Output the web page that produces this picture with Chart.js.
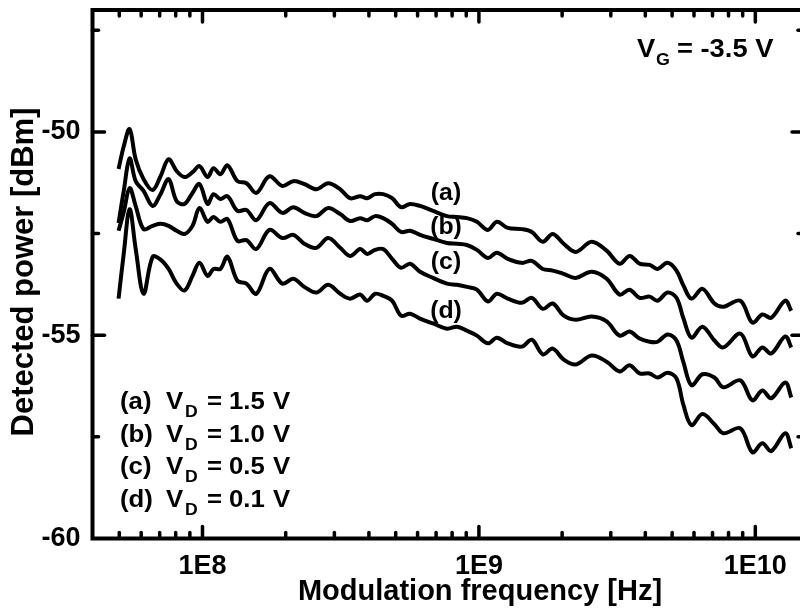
<!DOCTYPE html>
<html>
<head>
<meta charset="utf-8">
<script src="https://cdn.jsdelivr.net/npm/chart.js@4/dist/chart.umd.min.js"></script>
<style>
  html, body { margin: 0; padding: 0; background: #fff; overflow: hidden; }
  canvas { display: block; }
</style>
</head>
<body>
<canvas id="plot" width="810" height="614"></canvas>
<script>
// modulation frequency [Hz], shared by all four traces
const freqHz = [4.97e7, 5.19e7, 5.45e7, 5.73e7, 6.12e7, 6.60e7, 7.05e7, 7.54e7, 8.06e7, 8.61e7,
  9.20e7, 9.75e7, 1.043e8, 1.096e8, 1.161e8, 1.231e8, 1.338e8, 1.442e8, 1.566e8, 1.746e8,
  1.945e8, 2.131e8, 2.335e8, 2.580e8, 2.850e8, 3.150e8, 3.421e8, 3.719e8, 3.942e8, 4.212e8,
  4.503e8, 4.852e8, 5.228e8, 5.634e8, 6.124e8, 6.823e8, 7.663e8, 8.328e8, 9.051e8, 9.835e8,
  1.078e9, 1.161e9, 1.272e9, 1.429e9, 1.554e9, 1.702e9, 1.850e9, 2.027e9, 2.240e9, 2.558e9,
  2.898e9, 3.228e9, 3.509e9, 3.813e9, 4.143e9, 4.429e9, 4.812e9, 5.185e9, 5.496e9, 5.875e9,
  6.438e9, 7.112e9, 7.663e9, 8.829e9, 9.754e9, 1.060e10, 1.142e10, 1.283e10, 1.349e10];

// detected power [dBm]
const powerA = [-50.91, -50.35, -49.93, -50.67, -51.16, -51.43, -51.09, -50.67, -50.96, -51.11,
  -50.99, -50.84, -51.11, -50.89, -51.04, -50.82, -51.21, -51.26, -51.50, -51.09,
  -51.33, -51.21, -51.28, -51.41, -51.26, -51.41, -51.63, -51.58, -51.63, -51.53,
  -51.53, -51.63, -51.85, -51.77, -51.82, -51.94, -52.07, -52.09, -52.12, -52.21,
  -52.41, -52.21, -52.36, -52.39, -52.46, -52.70, -52.51, -52.75, -52.95, -52.70,
  -52.92, -53.24, -53.05, -53.24, -53.27, -53.37, -53.22, -53.41, -53.78, -54.10,
  -53.86, -54.22, -54.30, -54.15, -54.69, -54.49, -54.57, -54.15, -54.40];
const powerB = [-52.24, -51.45, -50.65, -51.21, -51.45, -51.82, -51.53, -51.16, -51.70, -51.77,
  -51.50, -51.28, -51.77, -51.53, -51.65, -51.58, -51.94, -51.92, -52.17, -51.75,
  -51.99, -51.85, -51.99, -52.07, -51.87, -52.02, -52.19, -52.12, -52.17, -52.07,
  -52.12, -52.26, -52.46, -52.43, -52.53, -52.63, -52.73, -52.75, -52.78, -52.90,
  -53.10, -52.97, -53.12, -53.22, -53.17, -53.37, -53.41, -53.49, -53.59, -53.44,
  -53.61, -54.00, -53.88, -54.08, -54.05, -54.15, -53.95, -54.08, -54.59, -55.06,
  -54.79, -55.13, -55.30, -54.96, -55.52, -55.30, -55.45, -55.03, -55.30];
const powerC = [-52.43, -51.97, -51.38, -51.82, -52.39, -52.31, -52.26, -52.31, -52.43, -52.51,
  -52.31, -51.87, -52.21, -52.09, -52.21, -52.14, -52.68, -52.66, -52.88, -52.41,
  -52.61, -52.53, -52.75, -52.85, -52.61, -52.85, -53.05, -52.88, -53.00, -52.90,
  -52.88, -53.12, -53.34, -53.24, -53.44, -53.59, -53.73, -53.76, -53.81, -53.88,
  -54.17, -53.98, -54.10, -54.20, -54.08, -54.35, -54.22, -54.52, -54.62, -54.54,
  -54.66, -55.01, -54.91, -55.08, -55.16, -55.16, -54.98, -55.13, -55.67, -56.23,
  -55.96, -56.04, -56.28, -56.11, -56.60, -56.36, -56.55, -56.16, -56.53];
const powerD = [-54.10, -52.99, -51.90, -52.87, -53.98, -53.07, -53.14, -53.37, -53.73, -53.90,
  -53.54, -53.22, -53.54, -53.37, -53.37, -53.07, -53.66, -53.73, -53.98, -53.37,
  -53.73, -53.61, -53.81, -53.95, -53.76, -53.98, -54.10, -54.00, -54.15, -53.98,
  -54.03, -54.15, -54.52, -54.47, -54.59, -54.71, -54.84, -54.79, -54.89, -55.01,
  -55.20, -55.06, -55.20, -55.28, -55.11, -55.47, -55.33, -55.60, -55.72, -55.50,
  -55.65, -55.89, -55.74, -55.94, -55.94, -56.04, -55.92, -56.06, -56.72, -57.21,
  -56.94, -57.19, -57.41, -57.29, -57.88, -57.66, -57.85, -57.41, -57.78];

const xTicks = [1e8, 1e9, 1e10];
const xTickLabels = ['1E8', '1E9', '1E10'];
const yTicks = [-60, -55, -50];
const seriesNames = ['(a)', '(b)', '(c)', '(d)'];
const drainVolts = ['1.5', '1.0', '0.5', '0.1'];

const FONT = '"Liberation Sans", Arial, sans-serif';

function toPoints(ys) {
  return freqHz.map((f, i) => ({ x: f, y: ys[i] }));
}

function line(ctx, x1, y1, x2, y2) {
  ctx.beginPath();
  ctx.moveTo(x1, y1);
  ctx.lineTo(x2, y2);
  ctx.stroke();
}

// text slightly widened, like the original figure lettering
function wide(ctx, s, x, y, sx) {
  ctx.save();
  ctx.translate(x, y);
  ctx.scale(sx, 1);
  ctx.fillText(s, 0, 0);
  ctx.restore();
}

// frame, inward ticks and the extra text
const decorations = {
  id: 'decorations',
  afterDraw(chart) {
    const { ctx, chartArea: a, scales: { x, y } } = chart;
    ctx.save();
    ctx.strokeStyle = '#000';
    ctx.fillStyle = '#000';
    ctx.lineCap = 'round';

    ctx.lineWidth = 4;
    ctx.strokeRect(a.left, a.top, a.right - a.left, a.bottom - a.top);

    ctx.lineWidth = 3.5;
    for (let d = 7; d <= 10; d++) {
      for (let m = 1; m <= 9; m++) {
        const v = m * Math.pow(10, d);
        if (v <= x.min || v >= x.max) continue;
        const px = x.getPixelForValue(v);
        const len = m === 1 ? 12 : 6;
        line(ctx, px, a.bottom, px, a.bottom - len);
        line(ctx, px, a.top, px, a.top + len);
      }
    }
    for (let v = -57.5; v <= -47.5; v += 2.5) {
      const py = y.getPixelForValue(v);
      const len = v % 5 === 0 ? 12 : 6;
      line(ctx, a.left, py, a.left + len, py);
      line(ctx, a.right, py, a.right - len, py);
    }

    // axis titles
    ctx.font = 'bold 29px ' + FONT;
    ctx.textAlign = 'center';
    ctx.textBaseline = 'alphabetic';
    ctx.fillText('Modulation frequency [Hz]', 480, 600);
    ctx.save();
    ctx.translate(33, 272);
    ctx.rotate(-Math.PI / 2);
    ctx.font = 'bold 31px ' + FONT;
    ctx.fillText('Detected power [dBm]', 0, 0);
    ctx.restore();

    // curve labels
    ctx.font = 'bold 23px ' + FONT;
    const labelBase = [200, 234, 269, 318];
    seriesNames.forEach((n, i) => wide(ctx, n, 446, labelBase[i], 1.08));

    // gate voltage
    ctx.textAlign = 'left';
    ctx.font = 'bold 26px ' + FONT;
    wide(ctx, 'V', 637, 57, 1.05);
    ctx.font = 'bold 17px ' + FONT;
    wide(ctx, 'G', 656, 65, 1.05);
    ctx.font = 'bold 26px ' + FONT;
    wide(ctx, '= -3.5 V', 677, 57, 1.05);

    // drain voltage list
    seriesNames.forEach((n, i) => {
      const base = 409 + i * 32.5;
      ctx.font = 'bold 23px ' + FONT;
      wide(ctx, n, 120, base, 1.12);
      wide(ctx, 'V', 166, base, 1.12);
      wide(ctx, '=', 207, base, 1.12);
      wide(ctx, drainVolts[i], 229, base, 1.12);
      wide(ctx, 'V', 273, base, 1.12);
      ctx.font = 'bold 16px ' + FONT;
      wide(ctx, 'D', 185, base + 8, 1.1);
    });
    ctx.restore();
  }
};

const traceStyle = { borderColor: '#000', borderWidth: 4, pointRadius: 0, tension: 0.35, fill: false };

new Chart(document.getElementById('plot').getContext('2d'), {
  type: 'line',
  data: {
    datasets: [
      { label: '(a)', data: toPoints(powerA), ...traceStyle },
      { label: '(b)', data: toPoints(powerB), ...traceStyle },
      { label: '(c)', data: toPoints(powerC), ...traceStyle },
      { label: '(d)', data: toPoints(powerD), ...traceStyle }
    ]
  },
  options: {
    responsive: false,
    animation: false,
    layout: { padding: { top: 10, right: 6, left: 0, bottom: 0 } },
    plugins: { legend: { display: false }, tooltip: { enabled: false } },
    scales: {
      x: {
        type: 'logarithmic',
        min: 4e7,
        max: 1.5e10,
        grid: { display: false, drawTicks: false },
        border: { display: false },
        afterBuildTicks: s => { s.ticks = xTicks.map(v => ({ value: v })); },
        afterFit: s => { s.height = 75.5; s.paddingLeft = 0; s.paddingRight = 0; },
        ticks: {
          autoSkip: false,
          maxRotation: 0,
          padding: 12,
          color: '#000',
          font: { family: FONT, size: 27, weight: 'bold' },
          callback: (v, i) => xTickLabels[i]
        }
      },
      y: {
        min: -60,
        max: -47,
        grid: { display: false, drawTicks: false },
        border: { display: false },
        afterBuildTicks: s => { s.ticks = yTicks.map(v => ({ value: v })); },
        afterFit: s => { s.width = 92.5; s.paddingTop = 0; s.paddingBottom = 0; },
        ticks: {
          padding: 12,
          color: '#000',
          font: { family: FONT, size: 27, weight: 'bold' },
          callback: v => String(v)
        }
      }
    }
  },
  plugins: [decorations]
});
</script>
</body>
</html>
